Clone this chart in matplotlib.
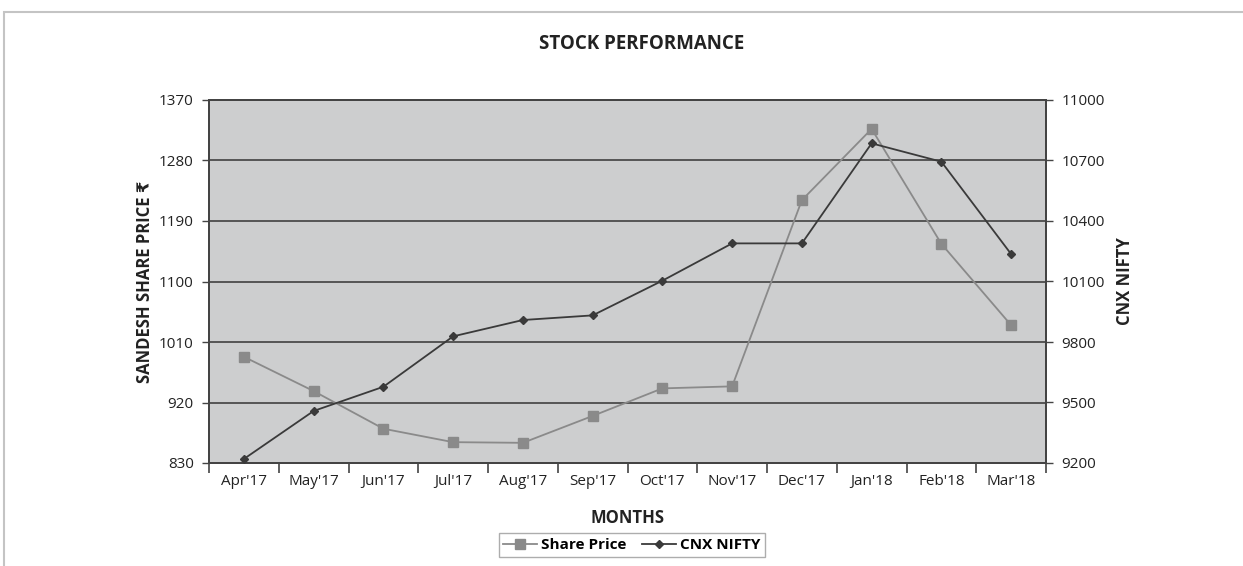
import matplotlib
matplotlib.use("Agg")
import matplotlib.pyplot as plt
from matplotlib.patches import Rectangle
import numpy as np

months = ["Apr'17", "May'17", "Jun'17", "Jul'17", "Aug'17", "Sep'17",
          "Oct'17", "Nov'17", "Dec'17", "Jan'18", "Feb'18", "Mar'18"]
share_price = [988, 937, 881, 861, 860, 900, 941, 944, 1221, 1327, 1156, 1035]
cnx_nifty = [9220, 9458, 9578, 9828, 9909, 9932, 10104, 10289, 10289, 10785, 10694, 10236]
left_ticks = [830, 920, 1010, 1100, 1190, 1280, 1370]
right_ticks = [9200, 9500, 9800, 10100, 10400, 10700, 11000]

plt.rcParams['font.family'] = ['Open Sans', 'DejaVu Sans']

fig = plt.figure(figsize=(12.43, 5.66), dpi=100)
# outer chart border
fig.patches.append(Rectangle((4 / 1243, -0.05), 1.2, 1 - 12 / 566 + 0.05,
                             transform=fig.transFigure, fill=False,
                             edgecolor='#c4c4c4', linewidth=1.5))

ax = fig.add_axes([209 / 1243, 1 - 463 / 566, 837 / 1243, 363 / 566])
ax2 = ax.twinx()

x = np.arange(len(months))
ax.set_facecolor('#cdcecf')
ax.set_axisbelow(True)
ax.grid(axis='y', color='#555555', linewidth=1.4)

l1, = ax.plot(x, share_price, color='#8a8a8a', linewidth=1.3, marker='s',
              markersize=6.5, markerfacecolor='#8a8a8a', markeredgecolor='#8a8a8a',
              label='Share Price', zorder=3)
l2, = ax2.plot(x, cnx_nifty, color='#3a3a3a', linewidth=1.3, marker='D',
               markersize=3.8, markerfacecolor='#3a3a3a', markeredgecolor='#3a3a3a',
               label='CNX NIFTY', zorder=4)

ax.set_xlim(-0.5, len(months) - 0.5)
ax.set_ylim(830, 1370)
ax2.set_ylim(9200, 11000)
ax.set_yticks(left_ticks)
ax2.set_yticks(right_ticks)
ax.set_xticks(x)
ax.set_xticklabels(months)
ax.set_xticks(np.arange(-0.5, len(months)), minor=True)
ax.tick_params(axis='x', which='major', length=0, pad=8, labelsize=11, colors='#222222')
ax.tick_params(axis='x', which='minor', length=7, width=1.2, color='#444444')
ax.tick_params(axis='y', length=5, width=1.0, color='#444444', labelsize=11,
               labelcolor='#222222', pad=6)
ax2.tick_params(axis='y', length=5, width=1.0, color='#444444', labelsize=11,
                labelcolor='#222222', pad=6)

for a in (ax, ax2):
    for s in a.spines.values():
        s.set_color('#444444')
        s.set_linewidth(1.4)

ax.set_ylabel('SANDESH SHARE PRICE ₹', fontsize=12, fontweight='bold',
              color='#222222', va='center')
ax.yaxis.set_label_coords((145 - 209) / 837, 0.5)
ax2.set_ylabel('CNX NIFTY', fontsize=12, fontweight='bold', color='#222222',
               va='center')
ax2.yaxis.set_label_coords((1125 - 209) / 837, 0.5)
ax.set_xlabel('MONTHS', fontsize=12, fontweight='bold', color='#222222', va='center')
ax.xaxis.set_label_coords(0.5, (463 - 518) / -363 * -1)

fig.text(0.516, 1 - 44 / 566, 'STOCK PERFORMANCE', ha='center', va='center',
         fontsize=13.5, fontweight='bold', color='#222222')

leg = fig.legend(handles=[l1, l2], loc='center', bbox_to_anchor=(632 / 1243, 1 - 545 / 566),
                 ncol=2, frameon=True, fancybox=False, edgecolor='#999999',
                 handlelength=2.2, handletextpad=0.3, columnspacing=1.0,
                 borderpad=0.3, prop={'weight': 'bold', 'size': 11})
leg.get_frame().set_linewidth(1.0)

fig.savefig('out.png', dpi=100)
